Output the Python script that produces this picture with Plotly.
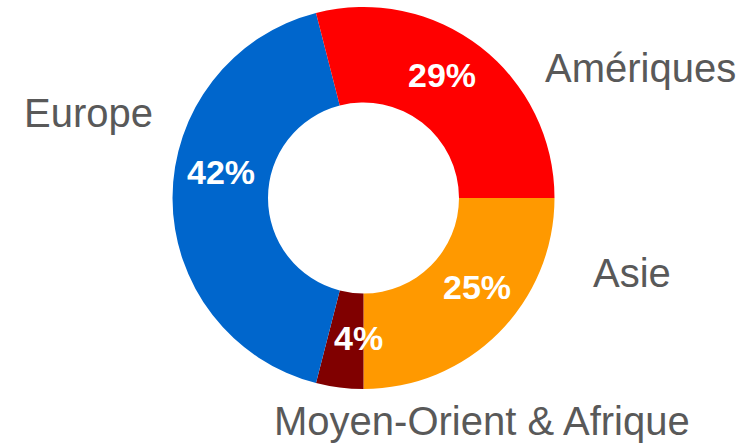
import plotly.graph_objects as go

W, H = 751, 447

# Data
regions = ["Asie", "Moyen-Orient & Afrique", "Europe", "Amériques"]
shares = [25, 4, 42, 29]
colors = ["#FF9900", "#800000", "#0066CC", "#FF0000"]

# Label placement (pixel coordinates of text centers)
label_pos = {
    "Asie": (632, 273),
    "Moyen-Orient & Afrique": (482, 421),
    "Europe": (88, 113),
    "Amériques": (640, 68),
}
pct_pos = {
    "Asie": (477, 287),
    "Moyen-Orient & Afrique": (358, 338),
    "Europe": (221, 172),
    "Amériques": (442, 75),
}

cx, cy, r = 363.5, 198, 191

fig = go.Figure(go.Pie(
    labels=regions,
    values=shares,
    sort=False,
    direction="clockwise",
    rotation=90,
    hole=0.5,
    marker=dict(colors=colors, line=dict(width=0)),
    textinfo="none",
    hoverinfo="label+percent",
    showlegend=False,
    domain=dict(x=[(cx - r) / W, (cx + r) / W], y=[1 - (cy + r) / H, 1 - (cy - r) / H]),
))

annotations = []
total = sum(shares)
for name, v in zip(regions, shares):
    px, py = label_pos[name]
    annotations.append(dict(
        x=px / W, y=1 - py / H, xref="paper", yref="paper",
        text=name, showarrow=False, xanchor="center", yanchor="middle",
        font=dict(family="Liberation Sans, Arial, sans-serif", size=40, color="#595959"),
    ))
    qx, qy = pct_pos[name]
    annotations.append(dict(
        x=qx / W, y=1 - qy / H, xref="paper", yref="paper",
        text=f"<b>{round(100 * v / total)}%</b>", showarrow=False,
        xanchor="center", yanchor="middle",
        font=dict(family="Liberation Sans, Arial, sans-serif", size=34, color="#FFFFFF"),
    ))

fig.update_layout(
    width=W, height=H,
    margin=dict(l=0, r=0, t=0, b=0),
    paper_bgcolor="white", plot_bgcolor="white",
    annotations=annotations,
)

fig.write_html(
    "out.html",
    config={"displayModeBar": False},
    post_script="document.body.style.margin='0px';document.body.style.overflow='hidden';",
)
